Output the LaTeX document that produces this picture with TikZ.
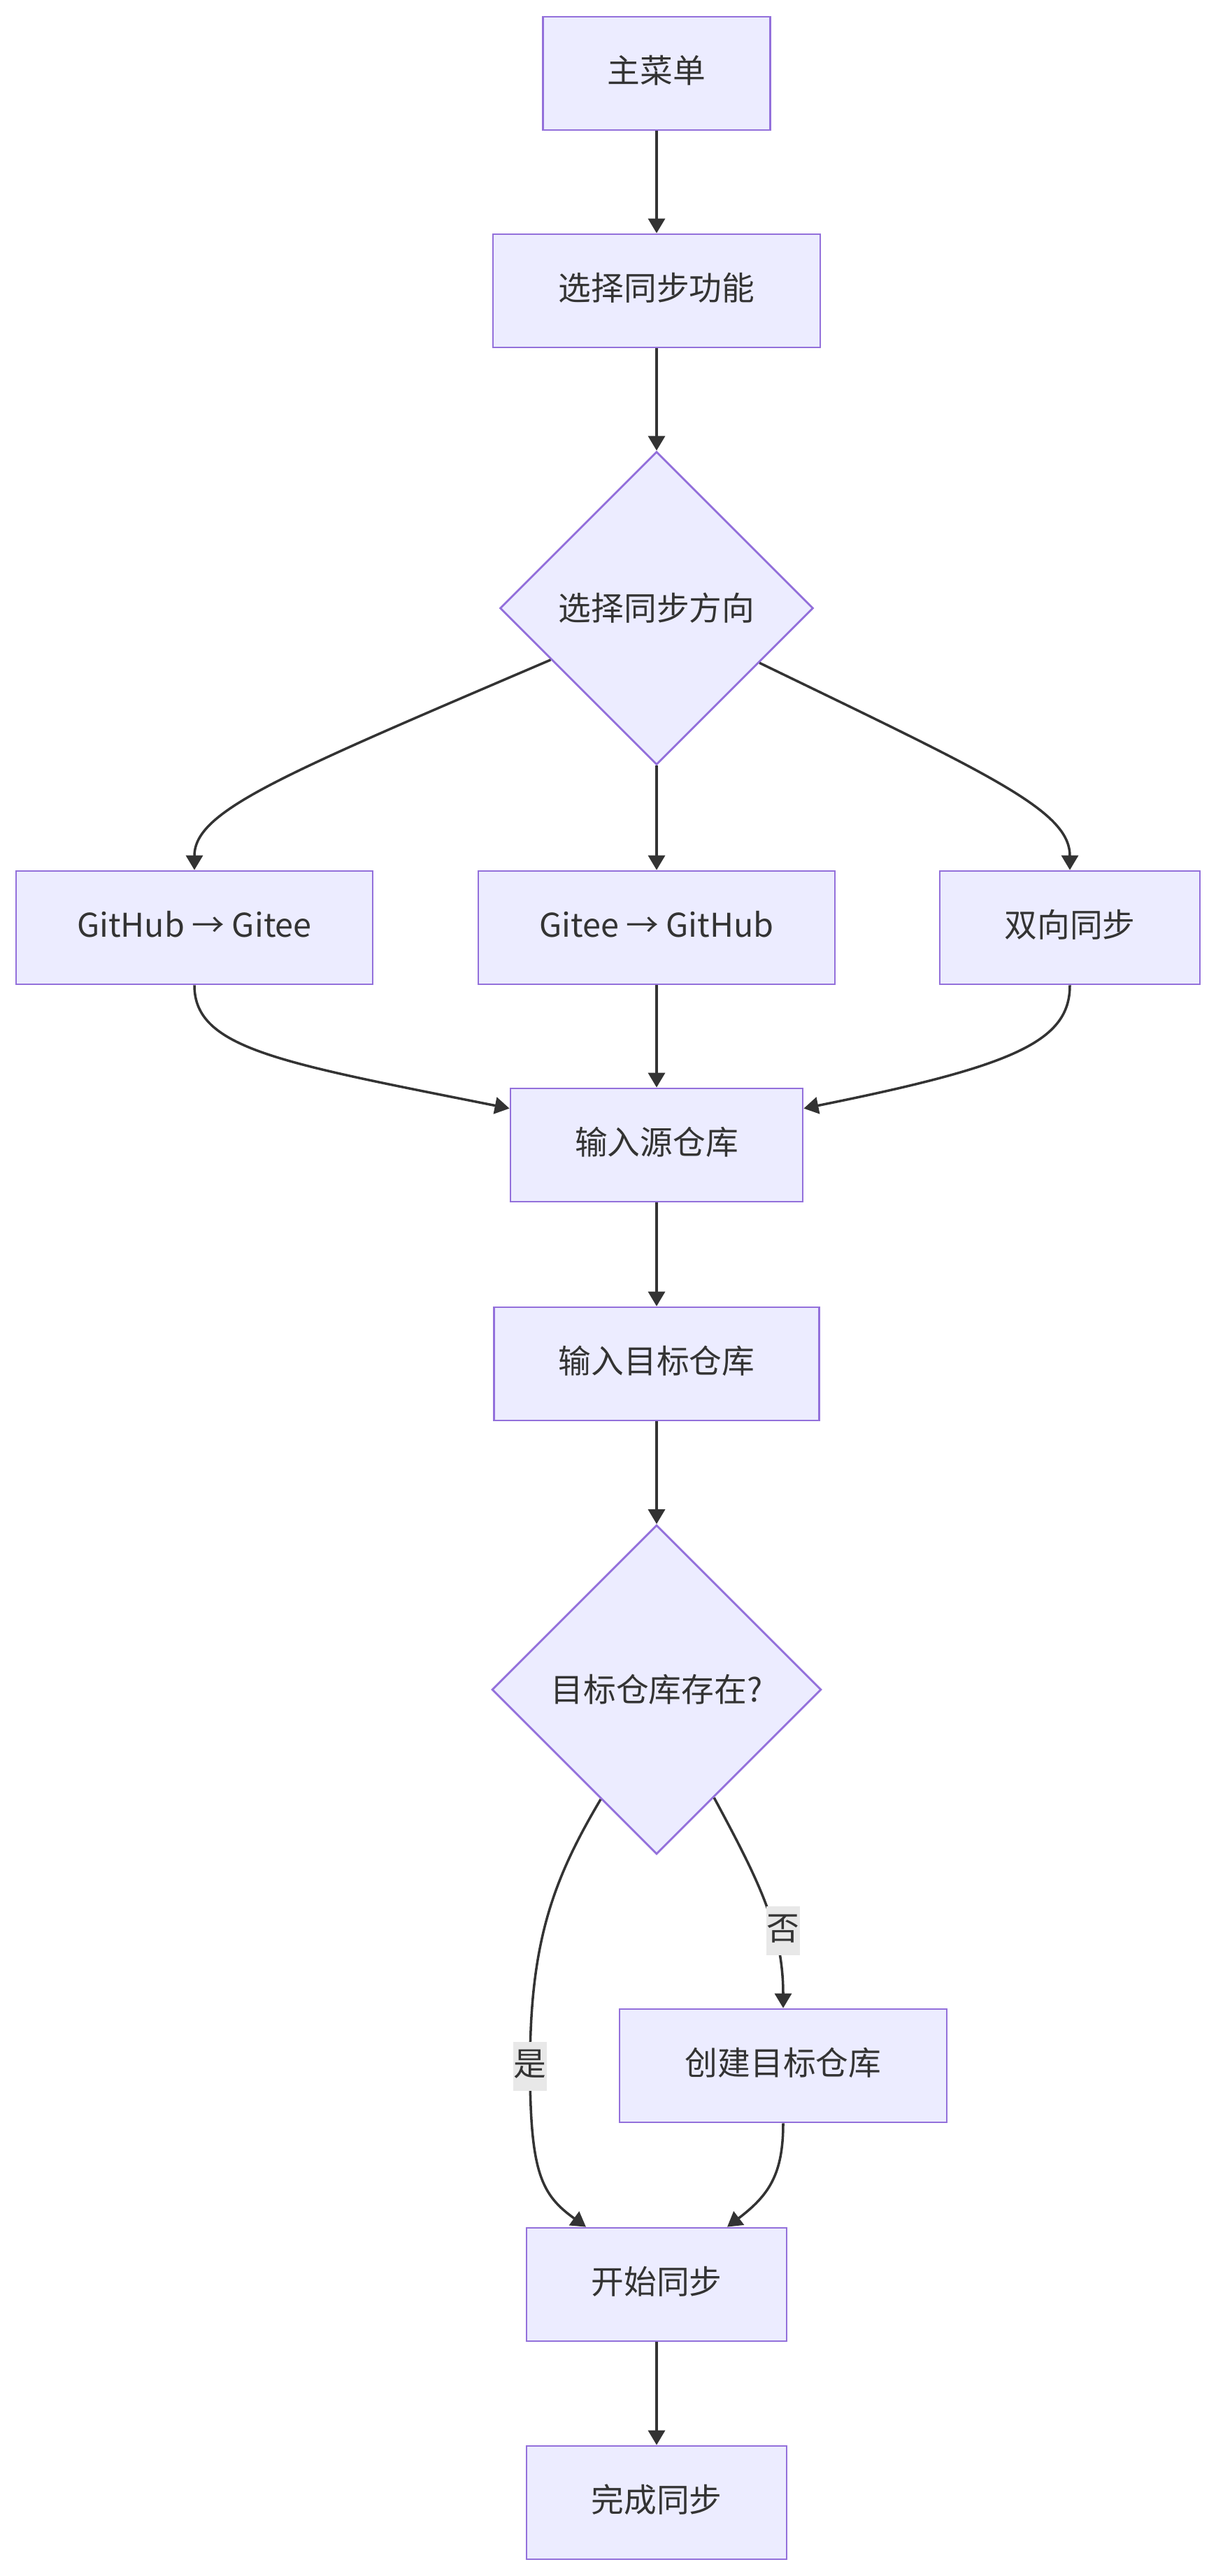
\documentclass[tikz,border=0pt]{standalone}
\usepackage{fontspec}
\setmainfont{Noto Sans CJK SC}
\usepackage{tikz}
\usetikzlibrary{shapes.geometric,arrows.meta}
\definecolor{boxfill}{HTML}{ECECFF}
\definecolor{boxline}{HTML}{9370DB}
\definecolor{ink}{HTML}{333333}
\definecolor{lblfill}{HTML}{E8E8E8}
\tikzstyle{line} = [draw=ink, line width=1pt, -{Triangle[length=2.1mm,width=2.4mm]}]
\tikzstyle{box} = [draw=boxline, fill=boxfill, line width=0.8pt, minimum height=1.62cm, text=ink, text height=0.36cm, text depth=0.09cm, font=\fontsize{13.3}{16}\selectfont]
\tikzstyle{choice} = [draw=boxline, fill=boxfill, line width=0.8pt, diamond, aspect=1, inner sep=0pt, text=ink, font=\fontsize{13.3}{16}\selectfont]
\tikzstyle{lbl} = [fill=lblfill, text=ink, inner xsep=0.01cm, inner ysep=0.12cm, text height=0.36cm, text depth=0.1cm, font=\fontsize{13.3}{16}\selectfont]

\begin{document}
\begin{tikzpicture}
    \useasboundingbox (0,0) rectangle (17.39,-36.85);

        \node[box, minimum width=3.25cm] (menu) at (9.39,-1.05) {主菜单};
        \node[box, minimum width=4.68cm] (sel) at (9.39,-4.16) {选择同步功能};
        \node[choice, minimum width=4.48cm, minimum height=4.48cm] (dir) at (9.39,-8.70) {选择同步方向};

        \node[box, minimum width=5.10cm] (gh) at (2.78,-13.27) {GitHub → Gitee};
        \node[box, minimum width=5.10cm] (gg) at (9.39,-13.27) {Gitee → GitHub};
        \node[box, minimum width=3.72cm] (both) at (15.30,-13.27) {双向同步};

        \node[box, minimum width=4.18cm] (src) at (9.39,-16.38) {输入源仓库};
        \node[box, minimum width=4.65cm] (dst) at (9.39,-19.51) {输入目标仓库};
        \node[choice, minimum width=4.71cm, minimum height=4.71cm] (exist) at (9.39,-24.17) {目标仓库存在?};

        \node[box, minimum width=4.68cm] (create) at (11.20,-29.55) {创建目标仓库};
        \node[box, minimum width=3.72cm] (start) at (9.39,-32.68) {开始同步};
        \node[box, minimum width=3.72cm] (finish) at (9.39,-35.80) {完成同步};

    \draw[line] (menu.south) -- (sel.north);
    \draw[line] (sel.south) -- (dir.north);
    \draw[line] (dir.206) .. controls (4.00,-11.10) and (2.78,-11.60) .. (gh.north);
    \draw[line] (dir.south) -- (gg.north);
    \draw[line] (dir.332) .. controls (14.20,-11.10) and (15.30,-11.60) .. (both.north);

    \draw[line] (gh.south) .. controls (2.78,-15.00) and (4.00,-15.20) .. ([yshift=-0.30cm]src.north west);
    \draw[line] (gg.south) -- (src.north);
    \draw[line] (both.south) .. controls (15.30,-14.90) and (14.50,-15.25) .. ([yshift=-0.30cm]src.north east);

    \draw[line] (src.south) -- (dst.north);
    \draw[line] (dst.south) -- (exist.north);
    \draw[line] (exist.243) .. controls (7.90,-26.90) and (7.58,-27.80) .. (7.58,-29.56)
        .. controls (7.58,-31.10) and (7.75,-31.40) .. ([xshift=-1.01cm]start.north);
    \draw[line] (exist.298) .. controls (10.85,-26.90) and (11.20,-27.60) .. (create.north);
    \draw[line] (create.south) .. controls (11.20,-31.10) and (11.00,-31.40) .. ([xshift=1.01cm]start.north);
    \draw[line] (start.south) -- (finish.north);

   % edge labels sit on top of the lines
   \node[lbl] (yes) at (7.58,-29.56) {是};
   \node[lbl] (no) at (11.20,-27.62) {否};

\end{tikzpicture}
\end{document}
